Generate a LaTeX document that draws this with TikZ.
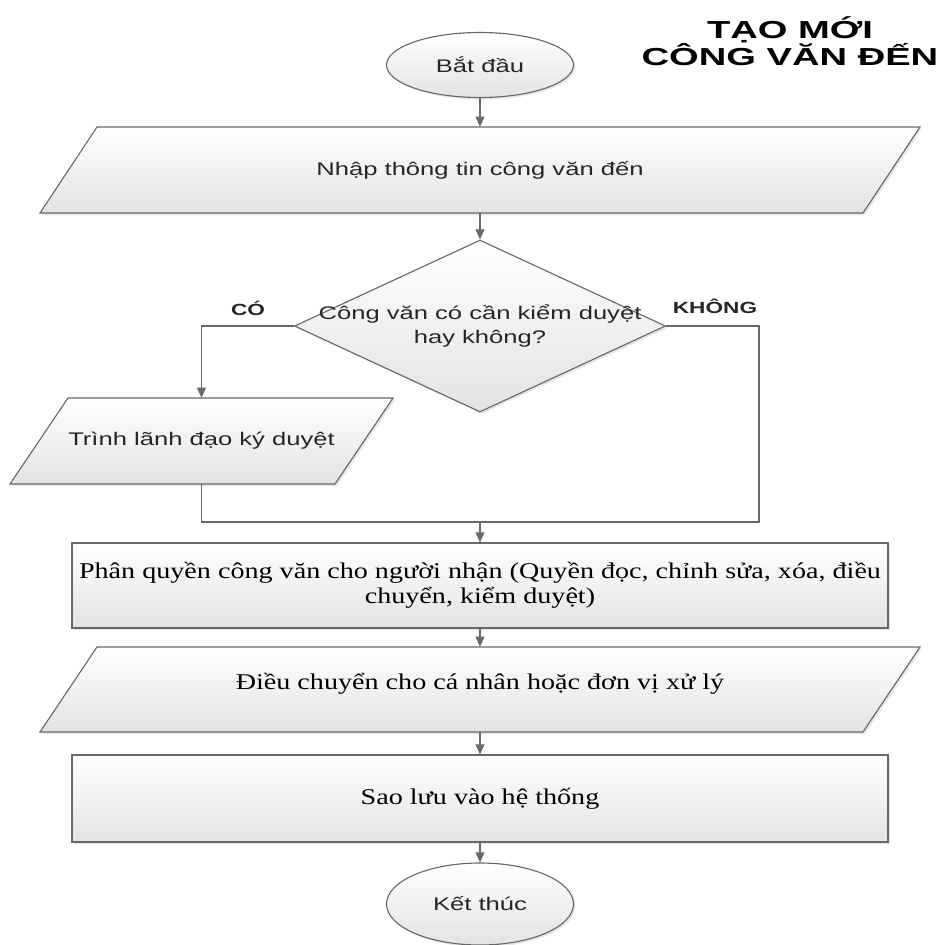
\documentclass[tikz,border=0pt]{standalone}
\usepackage{fontspec}
\setmainfont{Liberation Serif}[FakeStretch=1.25]
\newfontfamily\boxfont{Liberation Sans}[FakeStretch=1.4]
\newfontfamily\titlefont{Liberation Sans}[FakeStretch=1.55]
\usetikzlibrary{arrows.meta,shapes.geometric,shadows}

\definecolor{linegray}{HTML}{686868}
\definecolor{fillgray}{HTML}{E3E3E3}
\definecolor{textgray}{HTML}{262626}

\tikzset{
  box/.style={draw=linegray, line width=0.8pt, top color=white, bottom color=fillgray,
    drop shadow={shadow xshift=0.5mm, shadow yshift=-0.5mm, opacity=0.2}, inner sep=0pt},
  sansfont/.style={font=\boxfont\fontsize{13pt}{16.5pt}\selectfont, text=textgray},
  terminal/.style={box, sansfont, ellipse, minimum width=46.75mm},
  inout/.style={sansfont, rectangle, inner sep=0pt, minimum width=80mm},
  decision/.style={box, sansfont, diamond, aspect=2.16, inner sep=-3mm, align=center,
    minimum width=92.75mm, minimum height=43mm},
  process/.style={box, rectangle, align=center, minimum width=204mm,
    font=\fontsize{16pt}{18pt}\selectfont},
  branch/.style={font=\boxfont\bfseries\fontsize{11.5pt}{14pt}\selectfont, text=textgray},
  heading/.style={font=\titlefont\bfseries\fontsize{17.5pt}{19pt}\selectfont, align=center},
  flow/.style={draw=linegray, line width=0.8pt, -{Triangle[length=2.5mm,width=2.2mm]}},
  conn/.style={draw=linegray, line width=0.8pt}
}

\begin{document}
\begin{tikzpicture}[x=0.25mm, y=-0.25mm]
  % \helpgrid{10}{10}
  \useasboundingbox (0,0) rectangle (942,945);

  % parallelograms (data in/out)
  \draw[box] (97,127) -- (920,127) -- (863,213) -- (40,213) -- cycle;
  \draw[box] (68,398) -- (393,398) -- (335,484) -- (10,484) -- cycle;
  \draw[box] (97,647) -- (920,647) -- (863,732) -- (40,732) -- cycle;

  \node[terminal, minimum height=16.25mm] (start) at (480,65) {Bắt đầu};
  \node[inout, minimum height=21.5mm] (nhap) at (480,170) {Nhập thông tin công văn đến};
  \node[decision] (check) at (480,326) {Công văn có cần kiểm duyệt\\hay không?};
  \node[inout, minimum height=21.5mm] (trinh) at (201.5,441) {Trình lãnh đạo ký duyệt};
  \node[process, minimum height=21.25mm] (phan) at (480,585.5)
    {Phân quyền công văn cho người nhận (Quyền đọc, chỉnh sửa, xóa, điều\\chuyển, kiểm duyệt)};
  \node[inout, minimum height=21.25mm, text depth=4mm] (dieu) at (480,689.5)
    {\fontsize{16pt}{18pt}\rmfamily\color{black}Điều chuyển cho cá nhân hoặc đơn vị xử lý};
  \node[process, minimum height=21.75mm] (luu) at (480,798.5) {Sao lưu vào hệ thống};
  \node[terminal, minimum height=20.5mm] (ket) at (480,904) {Kết thúc};

  \node[heading] (tieude) at (790,41) {TẠO MỚI\\CÔNG VĂN ĐẾN};
  \node[branch] (co) at (248,308) {CÓ};
  \node[branch] (khong) at (715,306) {KHÔNG};

  \coordinate (join) at (480,522);
  \coordinate (rjoin) at (759,522);

  \draw[flow] (start) -- (nhap);
  \draw[flow] (nhap) -- (check);
  \draw[flow] (check.west) -| (trinh.north);
  \draw[conn] (check.east) -| (rjoin) -- (trinh.south |- rjoin) -- (trinh.south);
  \draw[flow] (join) -- (phan);
  \draw[flow] (phan) -- (dieu);
  \draw[flow] (dieu) -- (luu);
  \draw[flow] (luu) -- (ket);

\end{tikzpicture}
\end{document}
